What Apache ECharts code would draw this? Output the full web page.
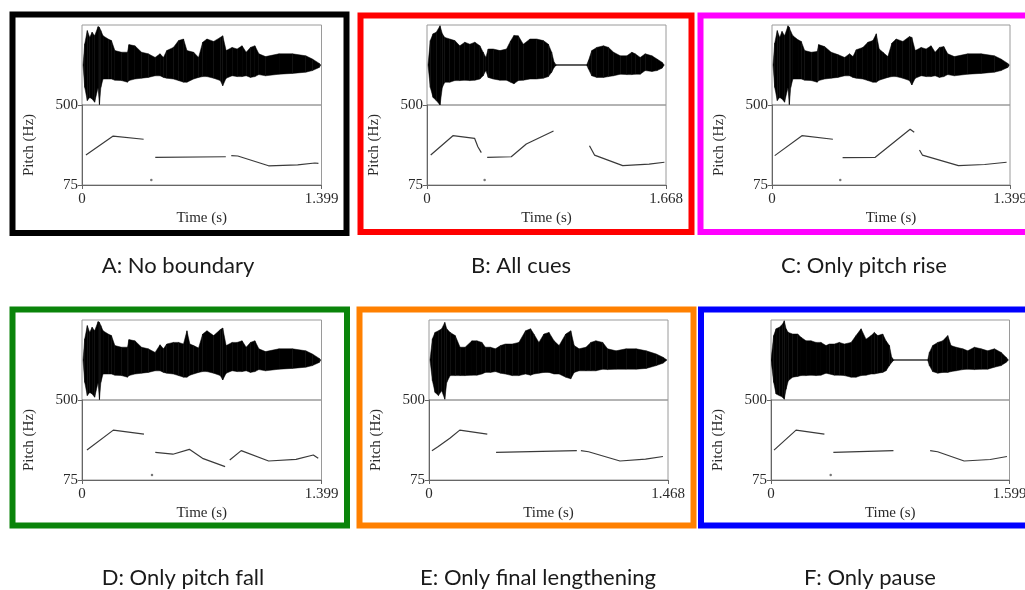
<!DOCTYPE html>
<html>
<head>
<meta charset="utf-8">
<script src="https://cdn.jsdelivr.net/npm/echarts@6/dist/echarts.min.js"></script>
<style>
  html, body { margin: 0; padding: 0; background: #ffffff; }
  #chart { width: 1025px; height: 590px; }
</style>
</head>
<body>
<div id="chart"></div>
<script>
// Stimulus conditions
const conditions = ['A: No boundary', 'B: All cues', 'C: Only pitch rise',
                    'D: Only pitch fall', 'E: Only final lengthening', 'F: Only pause'];
const frameColors = ['#000000', '#ff0000', '#ff00ff', '#0a840a', '#ff8000', '#0000ff'];
const durations = [1.399, 1.668, 1.399, 1.399, 1.468, 1.599];
const pitchTicks = [75, 500];

// Waveform envelopes: [time (s), upper amplitude, lower amplitude]
const waveA = [[0.006,0,0],[0.016,0.53,-0.56],[0.031,0.86,-0.89],[0.045,0.69,-0.81],[0.059,0.82,-0.85],
  [0.074,0.73,-0.93],[0.094,0.96,-0.56],[0.102,0.94,-0.99],[0.110,0.86,-0.56],[0.123,0.73,-0.35],
  [0.153,0.65,-0.35],[0.172,0.61,-0.35],[0.192,0.36,-0.38],[0.231,0.32,-0.39],[0.266,0.32,-0.43],
  [0.274,0.51,-0.39],[0.309,0.48,-0.35],[0.348,0.32,-0.33],[0.387,0.28,-0.31],[0.427,0.19,-0.27],
  [0.456,0.28,-0.27],[0.476,0.19,-0.31],[0.495,0.36,-0.33],[0.534,0.44,-0.35],[0.564,0.61,-0.39],
  [0.593,0.65,-0.43],[0.613,0.36,-0.43],[0.652,0.32,-0.35],[0.681,0.19,-0.31],[0.705,0.57,-0.29],
  [0.730,0.65,-0.29],[0.769,0.59,-0.33],[0.808,0.69,-0.39],[0.822,0.73,-0.52],[0.842,0.36,-0.33],
  [0.877,0.44,-0.27],[0.906,0.40,-0.29],[0.935,0.48,-0.29],[0.959,0.32,-0.27],[0.984,0.44,-0.31],
  [1.010,0.48,-0.29],[1.033,0.28,-0.24],[1.072,0.21,-0.27],[1.151,0.28,-0.23],[1.229,0.28,-0.21],
  [1.307,0.23,-0.18],[1.346,0.15,-0.14],[1.386,0.04,-0.06],[1.395,0,0]];

const waveB = [[0.007,0,0],[0.023,0.61,-0.56],[0.042,0.78,-0.81],[0.065,0.82,-0.89],[0.091,0.98,-1.0],
  [0.107,0.78,-0.56],[0.124,0.69,-0.43],[0.159,0.65,-0.43],[0.194,0.61,-0.39],[0.229,0.48,-0.39],
  [0.264,0.57,-0.38],[0.299,0.52,-0.39],[0.334,0.57,-0.38],[0.369,0.48,-0.35],[0.392,0.32,-0.27],
  [0.411,0.19,-0.14],[0.427,0.40,-0.31],[0.462,0.40,-0.35],[0.509,0.36,-0.38],[0.555,0.40,-0.38],
  [0.583,0.60,-0.43],[0.607,0.74,-0.47],[0.637,0.73,-0.39],[0.672,0.52,-0.38],[0.719,0.65,-0.35],
  [0.765,0.65,-0.35],[0.812,0.61,-0.33],[0.847,0.52,-0.29],[0.870,0.32,-0.18],[0.887,0.07,-0.06],
  [0.901,0.008,-0.008],[1.115,0.008,-0.008],[1.127,0.11,-0.10],[1.150,0.36,-0.27],[1.185,0.44,-0.31],
  [1.232,0.48,-0.31],[1.267,0.44,-0.29],[1.302,0.32,-0.27],[1.349,0.23,-0.23],[1.395,0.23,-0.24],
  [1.430,0.32,-0.24],[1.453,0.28,-0.23],[1.488,0.19,-0.23],[1.523,0.28,-0.14],[1.570,0.23,-0.16],
  [1.605,0.15,-0.14],[1.640,0.07,-0.08],[1.656,0,0]];

const waveC = [[0.006,0,0],[0.016,0.55,-0.56],[0.031,0.86,-0.89],[0.045,0.69,-0.81],[0.059,0.84,-0.85],
  [0.074,0.73,-0.93],[0.094,0.98,-0.56],[0.102,0.94,-0.99],[0.110,0.84,-0.56],[0.123,0.73,-0.35],
  [0.153,0.63,-0.35],[0.172,0.59,-0.35],[0.192,0.36,-0.38],[0.231,0.32,-0.39],[0.266,0.34,-0.43],
  [0.274,0.51,-0.39],[0.309,0.46,-0.35],[0.348,0.32,-0.33],[0.387,0.26,-0.31],[0.427,0.19,-0.27],
  [0.456,0.28,-0.27],[0.476,0.21,-0.31],[0.495,0.38,-0.33],[0.534,0.44,-0.35],[0.564,0.57,-0.39],
  [0.593,0.61,-0.43],[0.613,0.78,-0.43],[0.630,0.40,-0.38],[0.652,0.32,-0.35],[0.681,0.21,-0.31],
  [0.705,0.55,-0.29],[0.730,0.65,-0.29],[0.769,0.59,-0.33],[0.808,0.71,-0.39],[0.822,0.69,-0.50],
  [0.842,0.36,-0.33],[0.877,0.44,-0.27],[0.906,0.40,-0.29],[0.935,0.48,-0.29],[0.959,0.32,-0.27],
  [0.984,0.44,-0.31],[1.010,0.46,-0.29],[1.033,0.28,-0.24],[1.072,0.21,-0.27],[1.151,0.28,-0.23],
  [1.229,0.28,-0.21],[1.307,0.23,-0.18],[1.346,0.15,-0.14],[1.386,0.04,-0.06],[1.395,0,0]];

const waveD = [[0.006,0,0],[0.016,0.53,-0.56],[0.031,0.86,-0.89],[0.045,0.69,-0.81],[0.059,0.82,-0.85],
  [0.074,0.73,-0.93],[0.094,0.96,-0.56],[0.102,0.94,-0.99],[0.110,0.86,-0.56],[0.123,0.73,-0.35],
  [0.153,0.65,-0.35],[0.172,0.61,-0.35],[0.192,0.36,-0.38],[0.231,0.32,-0.39],[0.266,0.32,-0.43],
  [0.274,0.51,-0.39],[0.309,0.48,-0.35],[0.348,0.32,-0.33],[0.387,0.28,-0.31],[0.427,0.19,-0.27],
  [0.456,0.38,-0.27],[0.476,0.28,-0.31],[0.495,0.40,-0.33],[0.534,0.44,-0.35],[0.564,0.44,-0.39],
  [0.593,0.40,-0.43],[0.613,0.73,-0.43],[0.630,0.40,-0.38],[0.652,0.36,-0.35],[0.681,0.30,-0.31],
  [0.705,0.65,-0.29],[0.730,0.73,-0.29],[0.769,0.61,-0.33],[0.808,0.76,-0.39],[0.822,0.80,-0.50],
  [0.842,0.36,-0.33],[0.877,0.44,-0.27],[0.906,0.44,-0.29],[0.935,0.48,-0.29],[0.959,0.32,-0.27],
  [0.984,0.44,-0.31],[1.010,0.48,-0.29],[1.033,0.28,-0.24],[1.072,0.21,-0.27],[1.151,0.28,-0.23],
  [1.229,0.28,-0.21],[1.307,0.23,-0.18],[1.346,0.15,-0.14],[1.386,0.04,-0.06],[1.395,0,0]];

const waveE = [[0.006,0,0],[0.021,0.53,-0.52],[0.037,0.69,-0.81],[0.058,0.73,-0.89],[0.078,0.78,-0.77],
  [0.097,0.94,-0.98],[0.109,0.78,-0.56],[0.130,0.69,-0.39],[0.161,0.61,-0.39],[0.191,0.32,-0.39],
  [0.222,0.32,-0.39],[0.264,0.48,-0.38],[0.294,0.48,-0.38],[0.325,0.44,-0.35],[0.346,0.32,-0.31],
  [0.377,0.32,-0.31],[0.408,0.28,-0.29],[0.439,0.36,-0.33],[0.469,0.40,-0.35],[0.511,0.40,-0.39],
  [0.552,0.44,-0.39],[0.593,0.73,-0.35],[0.624,0.78,-0.38],[0.644,0.65,-0.35],[0.675,0.44,-0.33],
  [0.706,0.65,-0.31],[0.737,0.69,-0.31],[0.768,0.48,-0.35],[0.799,0.36,-0.35],[0.840,0.65,-0.43],
  [0.871,0.73,-0.47],[0.892,0.36,-0.31],[0.922,0.28,-0.27],[0.964,0.32,-0.27],[0.994,0.44,-0.27],
  [1.025,0.48,-0.27],[1.067,0.44,-0.23],[1.097,0.28,-0.24],[1.149,0.23,-0.23],[1.211,0.28,-0.23],
  [1.272,0.28,-0.23],[1.334,0.23,-0.21],[1.396,0.15,-0.14],[1.437,0.07,-0.08],[1.462,0,0]];

const waveF = [[0.0,0,0],[0.018,0.61,-0.56],[0.034,0.78,-0.85],[0.056,0.82,-0.89],[0.078,0.90,-0.93],
  [0.089,0.98,-0.98],[0.101,0.78,-0.73],[0.116,0.69,-0.52],[0.145,0.65,-0.43],[0.179,0.65,-0.41],
  [0.201,0.57,-0.39],[0.235,0.48,-0.39],[0.268,0.48,-0.38],[0.302,0.44,-0.39],[0.335,0.44,-0.38],
  [0.369,0.36,-0.33],[0.391,0.40,-0.35],[0.425,0.40,-0.38],[0.458,0.44,-0.38],[0.492,0.40,-0.39],
  [0.537,0.44,-0.43],[0.570,0.61,-0.43],[0.604,0.78,-0.39],[0.637,0.52,-0.38],[0.671,0.61,-0.35],
  [0.693,0.69,-0.35],[0.716,0.61,-0.33],[0.749,0.65,-0.31],[0.771,0.48,-0.27],[0.794,0.36,-0.14],
  [0.809,0.07,-0.06],[0.823,0.008,-0.008],[1.051,0.008,-0.008],[1.062,0.19,-0.14],[1.084,0.36,-0.29],
  [1.118,0.44,-0.33],[1.152,0.48,-0.31],[1.185,0.61,-0.31],[1.207,0.36,-0.29],[1.241,0.32,-0.27],
  [1.286,0.28,-0.24],[1.319,0.23,-0.23],[1.364,0.32,-0.24],[1.409,0.28,-0.23],[1.453,0.23,-0.23],
  [1.498,0.28,-0.18],[1.543,0.19,-0.14],[1.576,0.07,-0.06],[1.592,0,0]];

// Pitch contours, one list of [time (s), F0 (Hz)] per voiced stretch
const pitchA = [[[0.023,234],[0.182,335],[0.360,318]],
                [[0.428,222],[0.840,225]],
                [[0.872,231],[0.910,229],[1.090,177],[1.260,182],[1.360,192],[1.381,190]]];
const pitchB = [[[0.026,234],[0.181,337],[0.332,323],[0.355,278],[0.379,247]],
                [[0.420,222],[0.588,225],[0.693,293],[0.883,362]],
                [[1.134,284],[1.169,234],[1.366,178],[1.550,186],[1.657,196]]];
const pitchC = [[[0.016,231],[0.176,337],[0.358,318]],
                [[0.415,220],[0.607,222],[0.812,371],[0.836,355]],
                [[0.867,261],[0.884,234],[1.096,178],[1.250,184],[1.379,196]]];
const pitchD = [[[0.029,234],[0.183,340],[0.362,319]],
                [[0.428,222],[0.531,212],[0.627,238],[0.704,190],[0.836,146]],
                [[0.863,181],[0.930,231],[1.090,176],[1.250,185],[1.351,208],[1.380,190]]];
const pitchE = [[[0.018,231],[0.057,253],[0.128,297],[0.189,340],[0.358,319]],
                [[0.412,222],[0.908,231]],
                [[0.933,231],[0.980,225],[1.173,176],[1.330,186],[1.437,200]]];
const pitchF = [[[0.020,234],[0.168,340],[0.358,319]],
                [[0.418,222],[0.821,231]],
                [[1.067,231],[1.117,225],[1.295,176],[1.470,184],[1.582,200]]];

// Isolated pitch points
const pitchDots = [[[0.405,102]], [[0.402,102]], [[0.401,102]], [[0.409,102]], [], [[0.400,102]]];

const waves = [waveA, waveB, waveC, waveD, waveE, waveF];
const pitches = [pitchA, pitchB, pitchC, pitchD, pitchE, pitchF];

// Panel geometry (pixels)
const frames = [[12.5,14.5,334,218.5],[360.5,15.5,331,216.5],[700.5,15.5,340,216.5],
                [12.5,309.5,334.5,216],[359.5,309.5,334,216],[701,309.5,340,216]];
const plotX = [[82,239.5],[427,239],[772,238],[82,239.5],[429,239],[771,238.5]];
const rowTop = [25, 25, 25, 320, 320, 320];
const captionPos = [[178,266],[521,266],[864,266],[183,578],[538,578],[870,578]];

const SERIF = '"Liberation Serif", "DejaVu Serif", serif';
const grids = [], xAxes = [], yAxes = [], series = [], graphics = [];

function renderEnvelope(params, api) {
  const a = api.coord([api.value(0), api.value(1)]);
  const b = api.coord([api.value(3), api.value(4)]);
  const c = api.coord([api.value(3), api.value(5)]);
  const d = api.coord([api.value(0), api.value(2)]);
  return {
    type: 'polygon',
    shape: { points: [a, b, c, d] },
    style: { fill: '#000', stroke: '#000', lineWidth: 0.5 }
  };
}

for (let p = 0; p < 6; p++) {
  const [left, width] = plotX[p];
  const top = rowTop[p];
  const dur = durations[p];

  // waveform pane
  const gw = grids.length;
  grids.push({ left, top, width, height: 80, show: true, borderColor: '#9a9a9a', borderWidth: 1,
               backgroundColor: 'transparent', containLabel: false, outerBoundsMode: 'none' });
  xAxes.push({ gridIndex: gw, type: 'value', min: 0, max: dur, show: false });
  yAxes.push({ gridIndex: gw, type: 'value', min: -1, max: 1, show: false });
  const env = [];
  const w = waves[p];
  for (let i = 0; i < w.length - 1; i++) {
    env.push([w[i][0], w[i][1], w[i][2], w[i + 1][0], w[i + 1][1], w[i + 1][2]]);
  }
  series.push({
    type: 'custom', xAxisIndex: gw, yAxisIndex: gw, renderItem: renderEnvelope, data: env,
    encode: { x: [0, 3], y: [1, 2, 4, 5] }, clip: true, silent: true
  });

  // pitch pane
  const gp = grids.length;
  grids.push({ left, top: top + 80, width, height: 80, show: true, borderColor: '#9a9a9a', borderWidth: 1,
               backgroundColor: 'transparent', containLabel: false, outerBoundsMode: 'none' });
  xAxes.push({
    gridIndex: gp, type: 'value', min: 0, max: dur,
    name: 'Time (s)', nameLocation: 'middle', nameGap: 26,
    nameTextStyle: { fontFamily: SERIF, fontSize: 15, color: '#2a2a2a' },
    axisLine: { show: true, onZero: false, lineStyle: { color: '#666', width: 1 } },
    axisTick: { show: true, length: 4, customValues: [0, dur], lineStyle: { color: '#666' } },
    axisLabel: { customValues: [0, dur], fontFamily: SERIF, fontSize: 15, color: '#2a2a2a', margin: 7,
                 formatter: v => (v === 0 ? '0' : dur.toFixed(3)) },
    splitLine: { show: false }
  });
  yAxes.push({
    gridIndex: gp, type: 'value', min: 75, max: 500,
    name: 'Pitch (Hz)', nameLocation: 'middle', nameGap: 45,
    nameTextStyle: { fontFamily: SERIF, fontSize: 15, color: '#2a2a2a' },
    axisLine: { show: true, onZero: false, lineStyle: { color: '#666', width: 1 } },
    axisTick: { show: true, length: 4, customValues: pitchTicks, lineStyle: { color: '#666' } },
    axisLabel: { customValues: pitchTicks, fontFamily: SERIF, fontSize: 15, color: '#2a2a2a', margin: 4 },
    splitLine: { show: false }
  });
  pitches[p].forEach(seg => {
    series.push({
      type: 'line', xAxisIndex: gp, yAxisIndex: gp, data: seg, showSymbol: false, silent: true,
      lineStyle: { color: '#3a3a3a', width: 1.2 }, animation: false
    });
  });
  if (pitchDots[p].length) {
    series.push({
      type: 'scatter', xAxisIndex: gp, yAxisIndex: gp, data: pitchDots[p], symbolSize: 2.5,
      itemStyle: { color: '#555' }, silent: true
    });
  }

  // coloured frame and caption
  const [fx, fy, fw, fh] = frames[p];
  graphics.push({ type: 'rect', shape: { x: fx, y: fy, width: fw, height: fh },
                  style: { fill: 'none', stroke: frameColors[p], lineWidth: 6 }, silent: true });
  graphics.push({ type: 'text', x: captionPos[p][0], y: captionPos[p][1],
                  style: { text: conditions[p], fill: '#1a1a1a', fontFamily: 'Lato, "Open Sans", sans-serif',
                           fontSize: 22, align: 'center', verticalAlign: 'middle' }, silent: true });
}

const chart = echarts.init(document.getElementById('chart'), null, { renderer: 'canvas' });
chart.setOption({
  animation: false,
  backgroundColor: '#ffffff',
  grid: grids,
  xAxis: xAxes,
  yAxis: yAxes,
  series: series,
  graphic: graphics
});
</script>
</body>
</html>
